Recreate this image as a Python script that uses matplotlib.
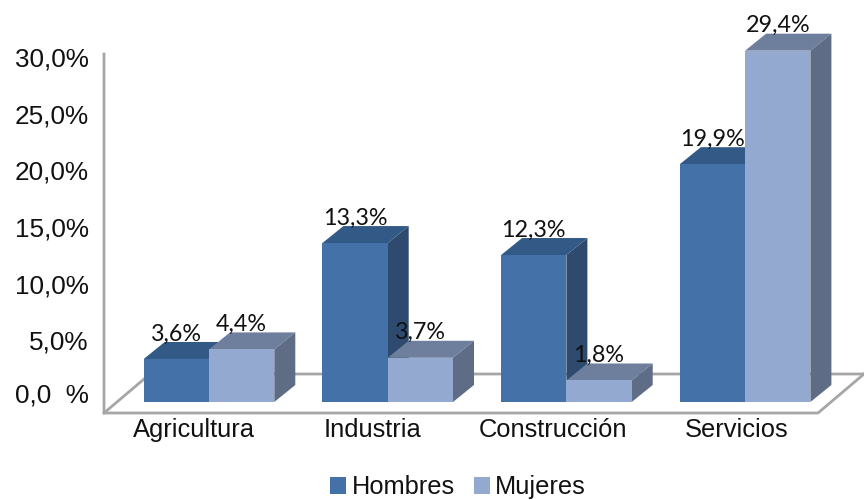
import matplotlib
matplotlib.use("Agg")
import matplotlib.pyplot as plt
from matplotlib.patches import Polygon
from matplotlib.transforms import ScaledTranslation

# Data
categorias = ["Agricultura", "Industria", "Construcción", "Servicios"]
hombres = [3.6, 13.3, 12.3, 19.9]
mujeres = [4.4, 3.7, 1.8, 29.4]
ticks = [0, 5, 10, 15, 20, 25, 30]
tick_labels = ["0,0  %", "5,0%", "10,0%", "15,0%", "20,0%", "25,0%", "30,0%"]

ANCHO, ALTO = 864, 500
PX_X = 178.7   # pixels per category
PX_Y = 11.95   # pixels per percent on the bars
X0, Y0 = 209, 402   # pixel position of first group centre / bar base
W = 65.3 / PX_X
DX = 21 / PX_X
DY = 17 / PX_Y
GRIS = "#a6a6a6"
AJUSTE_CAT = [-15, -15, -13, -8]   # the category labels are not centred on the groups

plt.rcParams["font.family"] = ["Liberation Sans", "DejaVu Sans"]

fig = plt.figure(figsize=(ANCHO / 100, ALTO / 100), dpi=100)
ax = fig.add_axes([0, 0, 1, 1])
ax.set_xlim(-X0 / PX_X, (ANCHO - X0) / PX_X)
ax.set_ylim((Y0 - ALTO) / PX_Y, Y0 / PX_Y)
ax.axis("off")


def px(x, y):
    return (x - X0) / PX_X, (Y0 - y) / PX_Y


# Walls and floor
ax.plot(*zip(px(104, 54), px(104, 413), px(818, 413), px(864, 374)), color=GRIS, lw=2, zorder=1)
ax.plot(*zip(px(104, 413), px(150, 374), px(864, 374)), color=GRIS, lw=2, zorder=1)


def barras(posiciones, valores, frente, arriba, lado, nombre, zorder):
    ax.bar(posiciones, valores, width=W, color=frente, edgecolor="none", label=nombre, zorder=zorder + 0.2)
    for x, v in zip(posiciones, valores):
        izq, der = x - W / 2, x + W / 2
        ax.add_patch(Polygon([(izq, v), (der, v), (der + DX, v + DY), (izq + DX, v + DY)],
                             color=arriba, lw=0, zorder=zorder))
        ax.add_patch(Polygon([(der, 0), (der + DX, DY), (der + DX, v + DY), (der, v)],
                             color=lado, lw=0, zorder=zorder))
        ax.annotate(f"{v:.1f}%".replace(".", ","), (x, v), xytext=(0, 18), textcoords="offset points",
                    ha="center", va="center", fontsize=16.8, family=["Lato", "DejaVu Sans"],
                    color="#111111", zorder=10)


pos = range(len(categorias))
barras([i - W / 2 for i in pos], hombres, "#4472a8", "#335a86", "#2e4a6e", "Hombres", 2)
barras([i + W / 2 for i in pos], mujeres, "#93a9cf", "#6e7f9e", "#5e6c85", "Mujeres", 3)

# Category labels
for i, c in enumerate(categorias):
    ax.text(i + AJUSTE_CAT[i] / PX_X, (Y0 - 430) / PX_Y, c, ha="center", va="center", fontsize=18.4, color="#111111")

ax.legend(loc="center", bbox_to_anchor=(458 / ANCHO, 1 - 487 / ALTO), ncol=2, frameon=False,
          fontsize=18.3, handlelength=0.65, handleheight=0.65, handletextpad=0.2, columnspacing=0.75,
          labelcolor="#111111", borderpad=0, borderaxespad=0)

# Value axis on the back wall
eje = fig.add_axes([104 / ANCHO, 1 - 397 / ALTO, 1 / ANCHO, 340 / ALTO], frameon=False)
eje.set_ylim(0, 30)
eje.set_xticks([])
eje.set_yticks(ticks)
eje.set_yticklabels(tick_labels, fontsize=18.8, color="#111111")
eje.tick_params(axis="y", length=0, pad=11)
lbl0 = eje.get_yticklabels()[0]
lbl0.set_transform(lbl0.get_transform() + ScaledTranslation(0, 4 / 100, fig.dpi_scale_trans))

fig.savefig("out.png", dpi=100)
